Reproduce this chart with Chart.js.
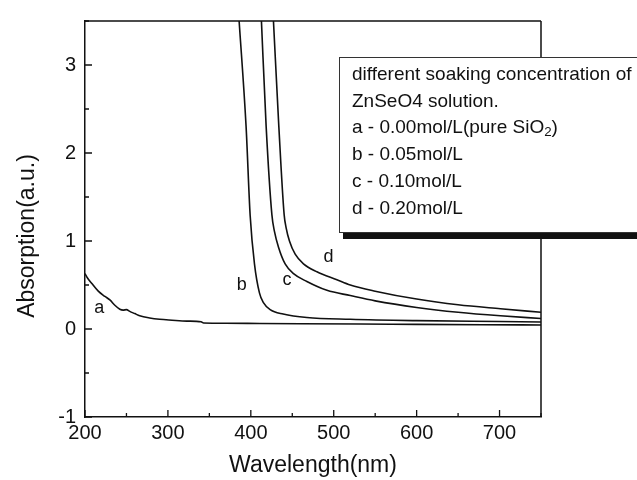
<!DOCTYPE html>
<html>
<head>
<meta charset="utf-8">
<script src="https://cdn.jsdelivr.net/npm/chart.js@4/dist/chart.umd.min.js"></script>
<style>
  html, body { margin: 0; padding: 0; background: #fff; }
  canvas { display: block; }
</style>
</head>
<body>
<canvas id="c" width="637" height="480"></canvas>
<script>
const FONT = '"Liberation Sans", Arial, Helvetica, sans-serif';
const INK = '#111';

// UV-Vis absorption spectra: wavelength (nm) and absorption (a.u.)
const waveA = [200, 203, 208, 216, 224, 230, 236, 242, 246, 250, 254, 260, 266, 278, 290, 305, 323, 340, 343, 370, 411, 460, 532, 600, 680, 750];
const absA  = [0.63, 0.58, 0.52, 0.43, 0.37, 0.33, 0.27, 0.225, 0.215, 0.22, 0.20, 0.175, 0.15, 0.125, 0.11, 0.10, 0.09, 0.082, 0.068, 0.066, 0.063, 0.06, 0.056, 0.053, 0.049, 0.045];

const waveB = [385.9, 394.3, 399.2, 404.4, 410.4, 415.2, 423.3, 439, 467.6, 520, 600, 700, 750];
const absB  = [3.5, 2.30, 1.29, 0.74, 0.41, 0.30, 0.22, 0.17, 0.13, 0.11, 0.095, 0.085, 0.08];

const waveC = [412.8, 418.5, 425.4, 428.5, 433.4, 441.4, 451.5, 467.6, 491.8, 520, 550, 600, 650, 701, 750];
const absC  = [3.5, 2.30, 1.30, 1.11, 0.93, 0.74, 0.63, 0.54, 0.44, 0.38, 0.32, 0.245, 0.19, 0.15, 0.12];

const waveD = [427.3, 433.8, 440.2, 442.6, 446.6, 453.5, 463.5, 479.7, 503.8, 520, 550, 600, 650, 701, 750];
const absD  = [3.5, 2.30, 1.30, 1.15, 1.00, 0.85, 0.74, 0.65, 0.56, 0.50, 0.43, 0.34, 0.275, 0.23, 0.19];

// Curve tags placed beside each spectrum
const curveTags = ['a', 'b', 'c', 'd'];
const tagWave   = [217.3, 389.2, 443.5, 493.6];
const tagAbs    = [0.24, 0.50, 0.555, 0.82];

// Axis ticks and titles
const xTickValues = [200, 300, 400, 500, 600, 700];
const yTickValues = [-1, 0, 1, 2, 3];
const xTitle = 'Wavelength(nm)';
const yTitle = 'Absorption(a.u.)';

// Legend text; segments flagged "sub" are drawn as subscripts
const legendLines = [
  [{ t: 'different soaking concentration of' }],
  [{ t: 'ZnSeO4 solution.' }],
  [{ t: 'a - 0.00mol/L(pure SiO' }, { t: '2', sub: true }, { t: ')' }],
  [{ t: 'b - 0.05mol/L' }],
  [{ t: 'c - 0.10mol/L' }],
  [{ t: 'd - 0.20mol/L' }]
];

const toPoints = (xs, ys) => xs.map((x, i) => ({ x, y: ys[i] }));

function spectrum(label, xs, ys) {
  return {
    label,
    data: toPoints(xs, ys),
    borderColor: INK,
    borderWidth: 1.6,
    pointRadius: 0,
    fill: false,
    cubicInterpolationMode: 'monotone'
  };
}

// Box frame plus inward major/minor ticks
const frameTicks = {
  id: 'frameTicks',
  afterDatasetsDraw(chart) {
    const { ctx, chartArea: a, scales: { x, y } } = chart;
    ctx.save();
    ctx.strokeStyle = INK;
    ctx.lineWidth = 1.5;
    ctx.beginPath();
    ctx.moveTo(a.left, a.top); ctx.lineTo(a.right, a.top);
    ctx.moveTo(a.right, a.top); ctx.lineTo(a.right, a.bottom);
    ctx.stroke();

    ctx.lineWidth = 1.3;
    ctx.beginPath();
    for (let v = x.min; v <= x.max + 1e-6; v += 50) {
      const px = x.getPixelForValue(v);
      const len = (v % 100 === 0) ? 7 : 4;
      ctx.moveTo(px, a.bottom); ctx.lineTo(px, a.bottom - len);
    }
    for (let v = y.min; v <= y.max + 1e-6; v += 0.5) {
      const py = y.getPixelForValue(v);
      const len = (Math.abs(v % 1) < 1e-6) ? 7 : 4;
      ctx.moveTo(a.left, py); ctx.lineTo(a.left + len, py);
    }
    ctx.stroke();
    ctx.restore();
  }
};

// Letters naming each curve, and the two axis titles
const textPlugin = {
  id: 'texts',
  afterDatasetsDraw(chart) {
    const { ctx, chartArea: a, scales: { x, y } } = chart;
    ctx.save();
    ctx.fillStyle = INK;
    ctx.font = '18px ' + FONT;
    ctx.textAlign = 'center';
    ctx.textBaseline = 'middle';
    curveTags.forEach((t, i) => {
      ctx.fillText(t, x.getPixelForValue(tagWave[i]), y.getPixelForValue(tagAbs[i]));
    });

    ctx.font = '23px ' + FONT;
    ctx.fillText(xTitle, (a.left + a.right) / 2, 466);
    ctx.translate(28, 236);
    ctx.rotate(-Math.PI / 2);
    ctx.fillText(yTitle, 0, 0);
    ctx.restore();
  }
};

// Framed legend with a drop shadow along its bottom edge
const legendBox = {
  id: 'legendBox',
  afterDraw(chart) {
    const { ctx } = chart;
    const left = 339.5, top = 57.5, right = 660, bottom = 232.5;
    ctx.save();
    ctx.fillStyle = '#fff';
    ctx.fillRect(left, top, right - left, bottom - top);
    ctx.strokeStyle = '#333';
    ctx.lineWidth = 1;
    ctx.strokeRect(left, top, right - left, bottom - top);
    ctx.fillStyle = INK;
    ctx.fillRect(343, 233, 300, 6);

    ctx.textBaseline = 'alphabetic';
    ctx.textAlign = 'left';
    const size = 19;
    legendLines.forEach((segs, i) => {
      let cx = 352;
      const base = 80 + i * 26.7;
      segs.forEach(s => {
        ctx.font = (s.sub ? size * 0.7 : size) + 'px ' + FONT;
        ctx.fillText(s.t, cx, s.sub ? base + 3 : base);
        cx += ctx.measureText(s.t).width;
      });
    });
    ctx.restore();
  }
};

new Chart(document.getElementById('c'), {
  type: 'line',
  data: {
    datasets: [
      spectrum('a', waveA, absA),
      spectrum('b', waveB, absB),
      spectrum('c', waveC, absC),
      spectrum('d', waveD, absD)
    ]
  },
  options: {
    responsive: false,
    animation: false,
    devicePixelRatio: 1,
    layout: { padding: { top: 12, right: 96, left: 0, bottom: 0 } },
    plugins: { legend: { display: false }, tooltip: { enabled: false } },
    scales: {
      x: {
        type: 'linear',
        min: 200, max: 750,
        afterBuildTicks: s => { s.ticks = xTickValues.map(v => ({ value: v })); },
        afterFit: s => { s.height = 63; },
        grid: { display: true, drawOnChartArea: false, drawTicks: false },
        border: { display: true, color: INK, width: 1.5 },
        ticks: { color: INK, padding: 4, maxRotation: 0, font: { family: FONT, size: 20 } }
      },
      y: {
        type: 'linear',
        min: -1, max: 3.5,
        afterBuildTicks: s => { s.ticks = yTickValues.map(v => ({ value: v })); },
        afterFit: s => { s.width = 85; },
        grid: { display: true, drawOnChartArea: false, drawTicks: false },
        border: { display: true, color: INK, width: 1.5 },
        ticks: { color: INK, padding: 9, font: { family: FONT, size: 20 } }
      }
    }
  },
  plugins: [frameTicks, textPlugin, legendBox]
});
</script>
</body>
</html>
